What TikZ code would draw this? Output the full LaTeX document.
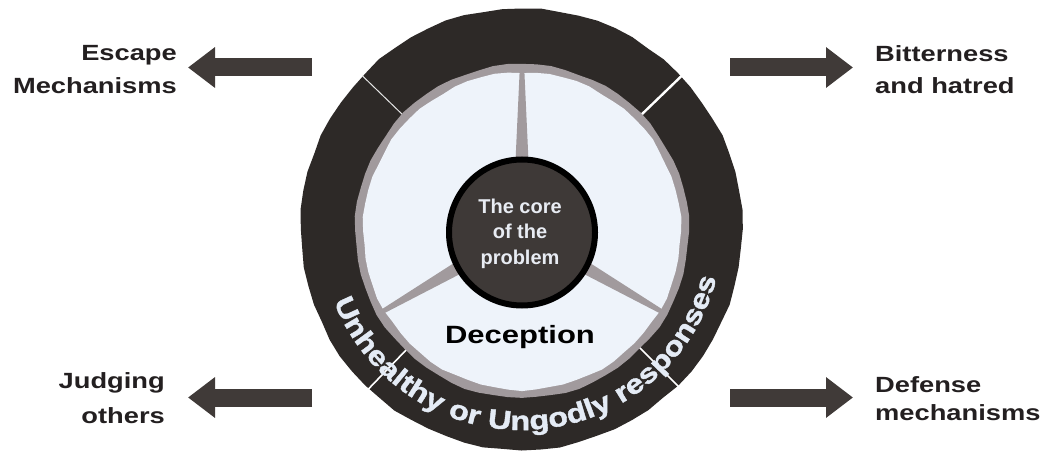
\documentclass[tikz,border=0pt]{standalone}
\usepackage{fontspec}
\setmainfont{Liberation Sans}
\newfontfamily\labfont{Liberation Sans}[FakeStretch=1.24]
\newfontfamily\arcfont{Liberation Sans}[FakeStretch=1.2,FakeBold=1.5]
\usetikzlibrary{arrows.meta,decorations.text}
\definecolor{tirec}{RGB}{45,41,39}
\definecolor{ringc}{RGB}{161,154,157}
\definecolor{lightc}{RGB}{238,243,250}
\definecolor{hubc}{RGB}{62,57,55}
\definecolor{arrowc}{RGB}{64,58,56}
\definecolor{labc}{RGB}{35,31,32}
\definecolor{arctext}{RGB}{228,235,245}
\definecolor{hubtext}{RGB}{232,236,243}
\tikzset{
  bigarrow/.style={draw=arrowc, line width=18pt, line cap=butt, -{Triangle[width=39pt,length=27pt]}},
  lab/.style={inner sep=0pt, text=labc},
  sepline/.style={draw=white, line width=1.6pt},
}
\begin{document}
\begin{tikzpicture}[x=1pt,y=1pt]
\useasboundingbox (0,0) rectangle (1044,453);
% tire
\fill[tirec, shift={(521.5,224)}] plot[samples=73, domain=0:360, variable=\t] (\t:{221+0.5*sin(7*\t)+0.5*sin(17*\t+40)+0.4*sin(31*\t)}) -- cycle;
% separators
\begin{scope}[shift={(522,223)}]
  \draw[sepline, draw=white!80!gray, line width=1pt] (136:165) -- (136:222);
  \draw[sepline, line width=2.4pt] (44:165) -- (44:222);
  \draw[sepline] (226:165) -- (226:222);
  \draw[sepline] (315:165) -- (315:222);
\end{scope}
% gray ring and light face
\fill[ringc, shift={(522,222)}] plot[samples=73, domain=0:360, variable=\t] (\t:{167+0.6*sin(9*\t)+0.5*sin(19*\t+20)}) -- cycle;
\fill[lightc, shift={(522,222)}] plot[samples=73, domain=0:360, variable=\t] (\t:{159+0.6*sin(11*\t+10)+0.5*sin(23*\t)}) -- cycle;
% spokes
\foreach \a in {90,210,330}{
  \fill[ringc, shift={(522,222)}, rotate=\a] (70,-6.5) -- (161,-2.3) -- (161,2.3) -- (70,6.5) -- cycle;
}
% hub
\node[circle, draw=black, line width=6pt, fill=hubc, minimum size=146pt, inner sep=0pt] (hub) at (522,220.5) {};
\node[inner sep=0pt, align=center, text=hubtext, font=\bfseries\fontsize{20}{25.5}\selectfont] (core) at (520,219.2) {The core\\of the\\problem};
\node[inner sep=0pt, anchor=base, text=black, font=\labfont\bfseries\fontsize{25}{25}\selectfont] (dec) at (520,110) {Deception};
% curved text
\path[decorate, decoration={text along path, text color=arctext, text align=center,
  text={|\arcfont\bfseries\fontsize{27}{27}\selectfont|Unhealthy or Ungodly responses}}]
  (521.5,224) ++(190:201) arc[start angle=190, end angle=357, radius=201];
% labels
\node[lab, anchor=north east, align=right, font=\labfont\bfseries\fontsize{22}{33.6}\selectfont] (escape) at (177,408) {Escape\\Mechanisms};
\node[lab, anchor=north west, align=left, font=\labfont\bfseries\fontsize{22}{32.6}\selectfont] (bitter) at (875,408) {Bitterness\\and hatred};
\node[lab, anchor=north east, align=right, font=\labfont\bfseries\fontsize{22}{35}\selectfont] (judge) at (165,80.5) {Judging\\others};
\node[lab, anchor=north west, align=left, font=\labfont\bfseries\fontsize{22}{27.5}\selectfont] (defense) at (875,76.3) {Defense\\mechanisms};
% arrows
\coordinate (a1s) at (312,385.5); \coordinate (a1e) at (188,385.5);
\coordinate (a2s) at (730,385.5); \coordinate (a2e) at (853,385.5);
\coordinate (a3s) at (312,55.5);  \coordinate (a3e) at (188,55.5);
\coordinate (a4s) at (730,55.5);  \coordinate (a4e) at (853,55.5);
\draw[bigarrow] (a1s) -- (a1e);
\draw[bigarrow] (a2s) -- (a2e);
\draw[bigarrow] (a3s) -- (a3e);
\draw[bigarrow] (a4s) -- (a4e);
\end{tikzpicture}
\end{document}
